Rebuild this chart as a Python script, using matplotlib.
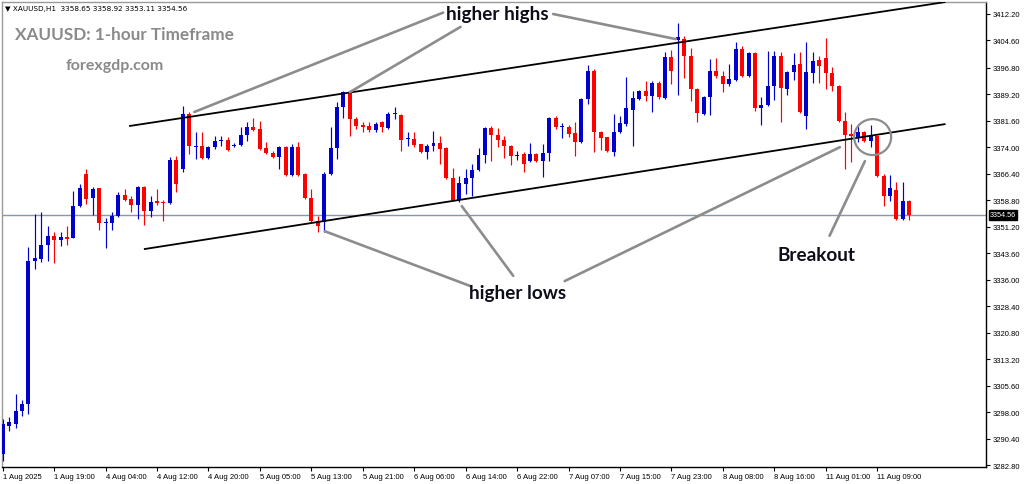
import numpy as np
import matplotlib.pyplot as plt
from matplotlib.patches import Ellipse
import matplotlib.transforms as mtransforms

# XAUUSD H1 candles, 1 Aug 2025 -> 11 Aug 2025
opens = [3286.0, 3294.0, 3294.6, 3298.3, 3300.3, 3341.4, 3341.9, 3345.9, 3348.5, 3347.4,
         3348.2, 3347.9, 3357.1, 3366.3, 3359.4, 3362.3, 3352.3, 3352.3, 3354.3, 3360.3,
         3359.1, 3357.4, 3362.6, 3355.7, 3358.6, 3358.3, 3358.0, 3370.3, 3367.7, 3383.5,
         3374.0, 3374.3, 3370.9, 3374.0, 3375.8, 3376.1, 3374.3, 3374.6, 3377.5, 3379.8,
         3379.2, 3373.8, 3372.3, 3371.2, 3374.0, 3366.0, 3374.0, 3366.3, 3359.4, 3352.8,
         3352.5, 3366.3, 3373.8, 3385.5, 3389.8, 3382.1, 3380.1, 3380.1, 3378.9, 3381.2,
         3379.5, 3383.5, 3383.2, 3376.4, 3376.4, 3374.9, 3372.6, 3374.3, 3375.2, 3373.8,
         3365.2, 3358.9, 3363.4, 3365.2, 3367.5, 3371.8, 3379.5, 3377.5, 3376.1, 3374.3,
         3371.5, 3372.0, 3370.0, 3372.0, 3370.0, 3372.3, 3382.4, 3379.8, 3379.8, 3378.1,
         3375.5, 3387.8, 3395.9, 3378.4, 3376.9, 3372.6, 3378.4, 3380.7, 3384.7, 3387.8,
         3390.1, 3388.7, 3392.4, 3388.1, 3399.9, 3404.7, 3405.0, 3400.2, 3390.7, 3383.5,
         3388.4, 3395.9, 3394.4, 3392.1, 3393.3, 3402.2, 3394.4, 3401.0, 3385.2, 3386.1,
         3391.5, 3400.2, 3390.7, 3395.6, 3397.9, 3382.9, 3395.3, 3399.0, 3399.6, 3395.3,
         3391.5, 3381.5, 3377.8, 3376.9, 3378.4, 3375.8, 3377.2, 3365.7, 3360.0, 3361.7,
         3353.4, 3358.65]
highs = [3296.0, 3296.6, 3303.2, 3301.5, 3345.4, 3354.8, 3355.4, 3351.4, 3349.7, 3349.7,
         3351.4, 3361.4, 3363.4, 3367.7, 3362.6, 3362.4, 3353.7, 3355.4, 3361.1, 3362.0,
         3360.0, 3362.8, 3362.8, 3360.0, 3362.0, 3358.9, 3371.2, 3371.5, 3385.8, 3384.1,
         3378.4, 3378.4, 3374.3, 3377.2, 3377.2, 3376.9, 3375.2, 3379.8, 3381.2, 3382.4,
         3381.5, 3375.5, 3372.9, 3374.2, 3374.2, 3374.9, 3375.5, 3366.5, 3362.0, 3354.3,
         3366.9, 3379.8, 3387.0, 3390.1, 3390.0, 3382.7, 3381.2, 3381.2, 3381.2, 3381.5,
         3384.1, 3385.5, 3383.5, 3378.4, 3378.4, 3375.0, 3374.9, 3378.6, 3377.2, 3374.0,
         3368.0, 3365.7, 3367.7, 3369.2, 3373.8, 3379.7, 3380.1, 3379.5, 3377.2, 3374.5,
         3372.9, 3372.6, 3375.2, 3372.2, 3374.9, 3382.7, 3382.9, 3380.9, 3380.4, 3381.2,
         3388.1, 3397.6, 3396.4, 3378.6, 3377.0, 3383.5, 3382.9, 3394.1, 3390.1, 3390.4,
         3393.0, 3393.0, 3393.0, 3401.3, 3401.9, 3409.6, 3405.9, 3402.4, 3390.9, 3388.6,
         3399.3, 3399.6, 3395.9, 3397.9, 3404.2, 3403.0, 3401.3, 3401.3, 3388.4, 3401.6,
         3401.6, 3401.3, 3395.8, 3401.0, 3401.3, 3404.2, 3401.3, 3400.2, 3405.3, 3397.0,
         3391.7, 3384.1, 3380.7, 3380.1, 3378.6, 3380.4, 3377.4, 3366.3, 3366.0, 3364.0,
         3364.0, 3358.92]
lows = [3284.0, 3292.6, 3293.5, 3296.9, 3297.5, 3339.1, 3341.1, 3341.4, 3340.8, 3345.7,
        3345.9, 3347.9, 3356.8, 3357.7, 3354.5, 3350.2, 3345.1, 3350.2, 3354.0, 3358.6,
        3355.4, 3353.4, 3351.7, 3354.0, 3357.4, 3352.8, 3357.7, 3361.1, 3366.9, 3372.0,
        3370.6, 3370.6, 3370.6, 3373.5, 3374.3, 3372.9, 3374.0, 3374.4, 3375.8, 3378.6,
        3373.3, 3372.0, 3371.0, 3367.7, 3365.8, 3365.8, 3365.7, 3359.1, 3352.5, 3349.7,
        3349.7, 3366.0, 3370.6, 3382.4, 3377.2, 3379.2, 3378.4, 3378.4, 3378.4, 3378.4,
        3379.2, 3382.1, 3372.9, 3374.3, 3374.0, 3372.4, 3370.6, 3372.9, 3369.2, 3364.9,
        3358.6, 3358.3, 3360.6, 3360.0, 3367.2, 3369.5, 3370.0, 3374.0, 3370.9, 3368.9,
        3370.3, 3366.9, 3369.7, 3369.7, 3365.5, 3370.0, 3379.2, 3376.6, 3376.9, 3371.5,
        3375.2, 3386.4, 3372.6, 3373.2, 3372.7, 3371.5, 3378.2, 3380.1, 3374.3, 3387.5,
        3387.2, 3384.1, 3387.8, 3387.8, 3392.1, 3389.0, 3393.8, 3387.2, 3381.2, 3383.3,
        3383.2, 3393.8, 3389.8, 3391.5, 3393.0, 3394.1, 3394.1, 3384.4, 3380.4, 3385.8,
        3387.5, 3381.2, 3389.0, 3393.3, 3383.9, 3379.2, 3392.4, 3392.4, 3390.7, 3390.1,
        3381.2, 3367.7, 3369.7, 3375.5, 3375.5, 3374.0, 3365.4, 3357.1, 3358.6, 3353.1,
        3353.1, 3353.11]
closes = [3294.6, 3295.2, 3298.3, 3300.3, 3341.4, 3342.2, 3345.9, 3348.5, 3347.4, 3348.2,
          3347.7, 3357.1, 3362.3, 3359.1, 3362.0, 3352.3, 3352.6, 3354.3, 3360.3, 3358.9,
          3357.4, 3362.6, 3355.7, 3358.3, 3358.0, 3358.0, 3370.3, 3363.4, 3383.5, 3374.3,
          3374.3, 3370.9, 3374.0, 3375.8, 3376.1, 3373.2, 3374.6, 3377.5, 3379.8, 3378.9,
          3373.5, 3372.3, 3371.2, 3374.0, 3366.0, 3374.0, 3366.0, 3359.4, 3352.8, 3351.4,
          3366.3, 3373.8, 3385.5, 3389.8, 3382.1, 3380.1, 3379.9, 3378.9, 3380.7, 3379.8,
          3383.5, 3383.8, 3376.1, 3376.7, 3374.6, 3372.6, 3374.3, 3375.2, 3373.5, 3365.2,
          3358.9, 3363.7, 3365.2, 3367.5, 3371.8, 3379.5, 3377.5, 3376.1, 3374.3, 3371.5,
          3371.8, 3369.2, 3372.0, 3370.0, 3372.3, 3382.4, 3379.8, 3380.0, 3377.8, 3375.5,
          3387.8, 3395.9, 3378.4, 3376.6, 3372.9, 3378.4, 3380.9, 3385.2, 3388.1, 3390.1,
          3388.7, 3392.4, 3388.4, 3399.9, 3395.9, 3405.6, 3400.2, 3390.7, 3383.8, 3388.4,
          3395.9, 3394.4, 3392.1, 3393.6, 3402.2, 3394.4, 3401.0, 3385.2, 3386.1, 3391.5,
          3400.2, 3391.0, 3395.6, 3397.6, 3384.1, 3395.6, 3398.7, 3397.3, 3395.3, 3391.5,
          3381.5, 3377.5, 3377.2, 3378.4, 3375.8, 3377.2, 3365.7, 3360.0, 3362.3, 3353.4,
          3358.6, 3354.56]

x_tick_pos = [0, 8, 16, 24, 32, 40, 48, 56, 64, 72, 80, 88, 96, 104, 112, 120, 128, 136]
x_tick_labels = ['1 Aug 2025', '1 Aug 19:00', '4 Aug 04:00', '4 Aug 12:00', '4 Aug 20:00',
                 '5 Aug 05:00', '5 Aug 13:00', '5 Aug 21:00', '6 Aug 06:00', '6 Aug 14:00',
                 '6 Aug 22:00', '7 Aug 07:00', '7 Aug 15:00', '7 Aug 23:00', '8 Aug 08:00',
                 '8 Aug 16:00', '11 Aug 01:00', '11 Aug 09:00']
y_ticks = [3282.8, 3290.4, 3298.0, 3305.6, 3313.2, 3320.8, 3328.4, 3336.0, 3343.6,
           3351.2, 3358.8, 3366.4, 3374.0, 3381.6, 3389.2, 3396.8, 3404.6, 3412.2]
y_tick_labels = ['3282.80', '3290.40', '3298.00', '3305.60', '3313.20', '3320.80', '3328.40',
                 '3336.00', '3343.60', '3351.20', '3358.80', '3366.40', '3374.00', '3381.60',
                 '3389.20', '3396.80', '3404.60', '3412.20']

# channel lines (bar index, price)
upper_line = ([19.8, 146.5], [3380.1, 3415.6])
lower_line = ([22.1, 146.5], [3344.8, 3380.6])

# annotation pointers: (start idx, start price, end idx, end price)
highs_ptrs = [(68.5, 3412.6, 29.8, 3384.1), (71.2, 3408.5, 54.0, 3389.8), (85.6, 3412.2, 104.7, 3405.0)]
lows_ptrs = [(72.7, 3334.2, 50.1, 3349.9), (79.4, 3337.1, 71.4, 3357.1), (87.4, 3335.6, 130.2, 3374.0)]
breakout_ptr = (128.6, 3348.6, 134.1, 3370.0)

BLUE = '#0000cc'
RED = '#ff0000'
GRAY = '#8c8c8c'
INK = '#0d0d1a'

fig = plt.figure(figsize=(10.24, 4.85), dpi=100)
ax = fig.add_axes([2 / 1024, 17 / 485, 984 / 1024, 465 / 485])

x = np.arange(len(opens))
o, h, l, c = map(np.array, (opens, highs, lows, closes))
cols = np.where(c > o, BLUE, RED)
ax.vlines(x, l, h, colors=cols, lw=0.85, zorder=3)
ax.bar(x, np.maximum(np.abs(c - o), 0.35), bottom=np.minimum(o, c), width=0.62,
       color=cols, lw=0, zorder=4)

# last price line + label
last = closes[-1]
ax.axhline(last, color='#8497b0', lw=1, zorder=1)
trans = mtransforms.blended_transform_factory(ax.transAxes, ax.transData)
ax.text(1.004, last, '%.2f' % last, transform=trans, ha='left', va='center',
        fontsize=5.2, family='Liberation Sans', color='white', clip_on=False,
        bbox=dict(boxstyle='square,pad=0.15', fc='black', ec='black'))

# channel
ax.plot(*upper_line, color='black', lw=1.3, zorder=5)
ax.plot(*lower_line, color='black', lw=1.3, zorder=5)

# annotations
for x0, y0, x1, y1 in highs_ptrs + lows_ptrs + [breakout_ptr]:
    ax.plot([x0, x1], [y0, y1], color=GRAY, lw=1.9, solid_capstyle='round', zorder=6)
ax.text(77.0, 3412.4, 'higher highs', ha='center', va='center', fontsize=13.6,
        family='Lato', weight='bold', color=INK, zorder=7)
ax.text(80.1, 3332.2, 'higher lows', ha='center', va='center', fontsize=13.6,
        family='Lato', weight='bold', color=INK, zorder=7)
ax.text(126.6, 3343.1, 'Breakout', ha='center', va='center', fontsize=13.6,
        family='Lato', weight='bold', color=INK, zorder=7)
ax.add_patch(Ellipse((135.3, 3376.9), 5.75, 10.3, fill=False, ec=GRAY, lw=1.6, zorder=6))

fig.text(15 / 1024, 1 - 35 / 485, 'XAUUSD: 1-hour Timeframe', ha='left', va='center',
         fontsize=12.3, family='Lato', weight='bold', color='#8a8a8a')
fig.text(66 / 1024, 1 - 66 / 485, 'forexgdp.com', ha='left', va='center',
         fontsize=11.5, family='Lato', weight='bold', color='#8a8a8a')
fig.text(5 / 1024, 1 - 9 / 485, '\u25bc XAUUSD,H1  3358.65 3358.92 3353.11 3354.56',
         ha='left', va='center', fontsize=5.2, family='DejaVu Sans', color='black')

ax.set_xlim(-0.11, 152.93)
ax.set_ylim(3282.28, 3415.64)
ax.set_xticks(x_tick_pos)
ax.set_xticklabels(x_tick_labels, ha='left', fontsize=5.5, family='Liberation Sans')
ax.yaxis.tick_right()
ax.set_yticks(y_ticks)
ax.set_yticklabels(y_tick_labels, fontsize=5.5, family='Liberation Sans')
ax.tick_params(axis='both', length=3, width=0.8, pad=1.5, colors='black')
for side in ('top', 'left'):
    ax.spines[side].set_color('#9a9a9a')
for side in ('right', 'bottom'):
    ax.spines[side].set_color('black')
for s in ax.spines.values():
    s.set_linewidth(1)

fig.savefig('out.png', dpi=100)
